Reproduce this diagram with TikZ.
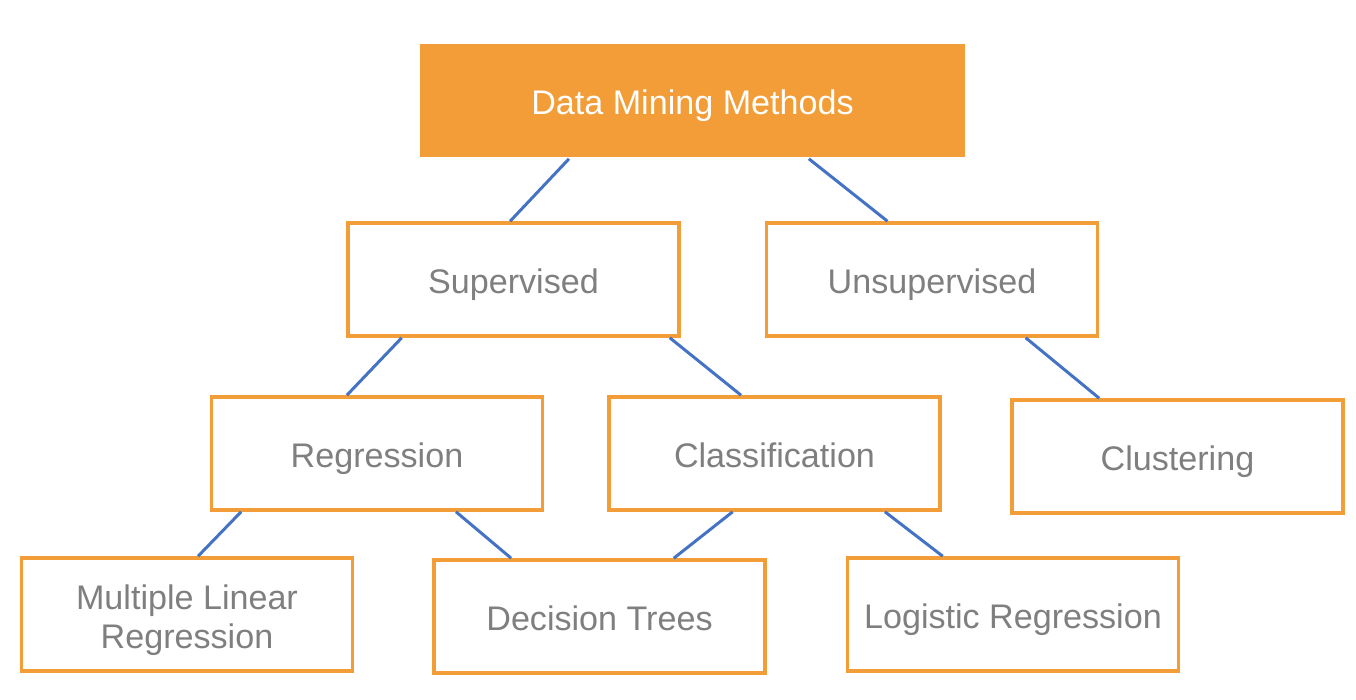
\documentclass[tikz,border=0pt]{standalone}
\usepackage{fontspec}
\setmainfont{Liberation Sans}
\usepackage{xcolor}
\usetikzlibrary{positioning,calc}

\definecolor{dmorange}{HTML}{F29D38}
\definecolor{dmblue}{HTML}{4472C4}
\definecolor{dmgray}{HTML}{7F7F7F}

\begin{document}
\begin{tikzpicture}[
  x=0.01cm, y=-0.01cm,
  box/.style={rectangle, draw=dmorange, line width=1pt, fill=white, minimum width=3.31cm, minimum height=1.13cm, align=center, text=dmgray, font=\fontsize{9.7}{11.1}\selectfont, inner sep=0pt, execute at begin node={\rule[-0.21em]{0pt}{1.26em}}},
  rootbox/.style={box, draw=none, fill=dmorange, text=white, minimum width=5.45cm},
  link/.style={draw=dmblue, line width=0.85pt}
]
\useasboundingbox (0,0) rectangle (1356,700);

% Root
\node[rootbox] (dm) at (692.5,100.5) {Data Mining Methods};

% Level 1
\node[box] (sup) at (513.5,279.5) {Supervised};
\node[box] (unsup) at (932,279.5) {Unsupervised};

% Level 2
\node[box] (reg) at (377,453.5) {Regression};
\node[box] (cls) at (774.5,453.5) {Classification};
\node[box] (clu) at (1177.5,456.5) {Clustering};

% Leaves
\node[box, execute at begin node={\rule[-0.21em]{0pt}{2.44em}}] (mlr) at (187,614.5) {Multiple Linear\\Regression};
\node[box] (dtree) at (599.5,616.5) {Decision Trees};
\node[box] (logreg) at (1013,614.5) {Logistic Regression};

% Links
\draw[link] ($(dm.south west)!0.275!(dm.south east)$) -- ($(sup.north west)!0.49!(sup.north east)$);
\draw[link] ($(dm.south west)!0.712!(dm.south east)$) -- ($(unsup.north west)!0.367!(unsup.north east)$);
\draw[link] ($(sup.south west)!0.166!(sup.south east)$) -- ($(reg.north west)!0.41!(reg.north east)$);
\draw[link] ($(sup.south west)!0.967!(sup.south east)$) -- ($(cls.north west)!0.40!(cls.north east)$);
\draw[link] ($(unsup.south west)!0.78!(unsup.south east)$) -- ($(clu.north west)!0.266!(clu.north east)$);
\draw[link] ($(reg.south west)!0.094!(reg.south east)$) -- ($(mlr.north west)!0.533!(mlr.north east)$);
\draw[link] ($(reg.south west)!0.736!(reg.south east)$) -- ($(dtree.north west)!0.236!(dtree.north east)$);
\draw[link] ($(cls.south west)!0.375!(cls.south east)$) -- ($(dtree.north west)!0.722!(dtree.north east)$);
\draw[link] ($(cls.south west)!0.83!(cls.south east)$) -- ($(logreg.north west)!0.29!(logreg.north east)$);

\end{tikzpicture}
\end{document}
